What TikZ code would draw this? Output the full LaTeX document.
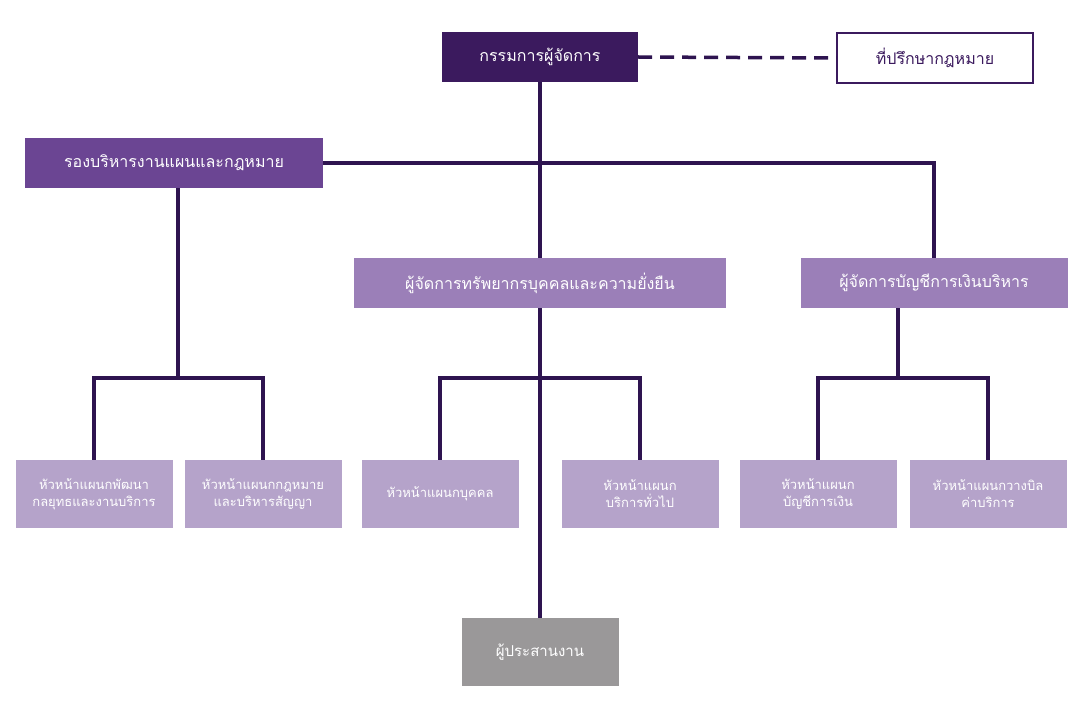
\documentclass[tikz,border=0pt]{standalone}
\usepackage{fontspec}
\setmainfont[Script=Thai]{Loma}
\usetikzlibrary{positioning}
\definecolor{dark}{HTML}{3B1A5E}
\definecolor{linec}{HTML}{2E1450}
\definecolor{mid}{HTML}{6B4593}
\definecolor{light}{HTML}{9B7FB8}
\definecolor{pale}{HTML}{B5A3CA}
\definecolor{grey}{HTML}{9A9899}
\tikzset{
  box/.style={rectangle, inner sep=0pt, align=center, text=white},
  topbox/.style={box, minimum height=50pt, font=\fontsize{16}{19}\selectfont},
  leafbox/.style={box, fill=pale, minimum width=157pt, minimum height=68pt, font=\fontsize{13}{17}\selectfont},
  link/.style={draw=linec, line width=3.5pt}
}
\begin{document}
\begin{tikzpicture}[x=1pt,y=-1pt]
\useasboundingbox (0,0) rectangle (1080,722);
% top level
\node [topbox, fill=dark, minimum width=196pt] (gm) at (540,57) {กรรมการผู้จัดการ};
\node [topbox, fill=white, draw=dark, line width=1.5pt, text=dark, minimum width=196pt] (legal) at (935,58) {ที่ปรึกษากฎหมาย};
\node [topbox, fill=mid, minimum width=298pt] (deputy) at (174,163) {รองบริหารงานแผนและกฎหมาย};
\node [topbox, fill=light, minimum width=372pt] (hr) at (540,283) {ผู้จัดการทรัพยากรบุคคลและความยั่งยืน};
\node [topbox, fill=light, minimum width=267pt] (fin) at (934,283) {ผู้จัดการบัญชีการเงินบริหาร};
% leaves
\node [leafbox] (plan) at (94,494) {หัวหน้าแผนกพัฒนา\\กลยุทธและงานบริการ};
\node [leafbox] (law) at (263,494) {หัวหน้าแผนกกฎหมาย\\และบริหารสัญญา};
\node [leafbox] (staff) at (440,494) {หัวหน้าแผนกบุคคล};
\node [leafbox] (serv) at (640,494) {หัวหน้าแผนก\\บริการทั่วไป};
\node [leafbox] (acc) at (818,494) {หัวหน้าแผนก\\บัญชีการเงิน};
\node [leafbox] (bill) at (988,494) {หัวหน้าแผนกวางบิล\\ค่าบริการ};
\node [box, fill=grey, minimum width=157pt, minimum height=68pt, font=\fontsize{15}{18}\selectfont] (coord) at (540,652) {ผู้ประสานงาน};
% connectors
\draw [link, dashed, dash pattern=on 14pt off 8pt] (gm.east) -- (legal.west);
\draw [link] (gm.south) -- (hr.north);
\draw [link] (deputy.east) -| (fin.north);
\coordinate (dj) at (178,378);
\draw [link] (deputy.south -| dj) -- (dj);
\draw [link] (plan.north) |- (dj) -| (law.north);
\coordinate (hj) at (540,378);
\draw [link] (hr.south) -- (coord.north);
\draw [link] (staff.north) |- (hj) -| (serv.north);
\coordinate (fj) at (898,378);
\draw [link] (fin.south -| fj) -- (fj);
\draw [link] (acc.north) |- (fj) -| (bill.north);
\end{tikzpicture}
\end{document}
